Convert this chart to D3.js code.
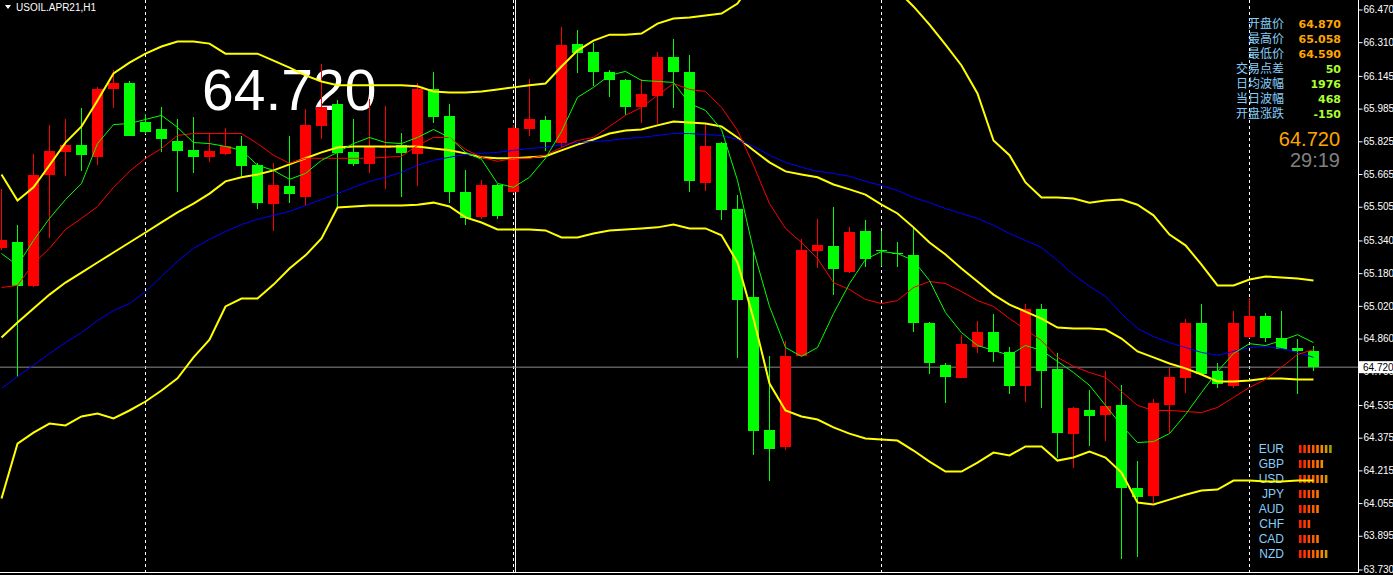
<!DOCTYPE html>
<html><head><meta charset="utf-8">
<script src="https://cdn.jsdelivr.net/npm/d3@7"></script>
<style>html,body{margin:0;padding:0;background:#000;overflow:hidden}</style>
</head><body><svg id="c" width="1393" height="575"></svg>
<script>
const symbol = "USOIL.APR21,H1";
const opens = [65.305,65.330,65.115,65.658,65.775,65.809,65.746,66.079,66.108,65.922,
65.883,65.829,65.785,65.746,65.765,65.800,65.707,65.516,65.604,65.555,
65.902,66.010,65.775,65.716,65.790,65.809,65.765,66.083,65.951,65.575,
65.457,65.609,65.575,65.883,65.927,65.819,66.299,66.260,66.162,66.127,
65.995,66.049,66.240,66.162,65.623,65.819,65.496,65.061,64.415,64.327,
64.777,65.286,65.315,65.188,65.384,65.291,65.281,65.271,64.934,64.733,
64.669,64.821,64.890,64.792,64.630,65.007,64.709,64.395,64.508,64.488,
64.537,64.131,64.092,64.537,64.669,64.934,64.699,64.630,64.870,64.968,
64.865,64.816,64.801];
const highs = [65.594,65.418,65.765,65.907,65.932,65.990,66.093,66.176,66.118,65.961,
65.995,65.932,65.942,65.868,65.888,65.849,65.721,65.721,65.849,65.981,
66.201,66.025,65.932,66.030,66.000,65.868,66.108,66.162,66.010,65.687,
65.638,65.614,65.907,66.132,65.951,66.382,66.372,66.304,66.172,66.132,
66.132,66.260,66.328,66.245,65.912,65.824,65.560,65.291,64.777,64.850,
65.349,65.447,65.506,65.408,65.438,65.384,65.330,65.403,64.939,64.738,
64.875,64.948,64.978,64.821,65.027,65.027,64.787,64.527,64.606,64.699,
64.635,64.263,64.562,64.718,64.958,65.027,64.738,64.997,65.058,64.983,
64.997,64.860,64.826];
const lows = [65.291,64.674,65.110,65.354,65.653,65.682,65.707,65.986,65.849,65.863,
65.775,65.575,65.668,65.726,65.756,65.653,65.496,65.384,65.521,65.511,
65.834,65.501,65.702,65.672,65.594,65.555,65.604,65.917,65.521,65.418,
65.447,65.445,65.570,65.853,65.780,65.795,66.157,66.098,66.044,65.956,
65.917,65.912,65.986,65.575,65.584,65.442,64.767,64.288,64.165,64.317,
64.772,65.203,65.071,65.183,65.208,65.217,65.208,64.890,64.689,64.547,
64.665,64.787,64.743,64.591,64.552,64.518,64.278,64.229,64.332,64.361,
63.779,63.789,64.053,64.400,64.596,64.684,64.616,64.616,64.865,64.841,
64.811,64.590,64.699];
const closes = [65.340,65.115,65.658,65.780,65.809,65.756,66.083,66.108,65.853,65.873,
65.834,65.780,65.746,65.780,65.800,65.702,65.521,65.609,65.565,65.907,
65.995,65.770,65.716,65.800,65.798,65.770,66.079,65.946,65.575,65.452,
65.609,65.462,65.888,65.932,65.824,66.294,66.255,66.162,66.127,65.995,
66.059,66.240,66.162,65.633,65.800,65.491,65.051,64.410,64.322,64.777,
65.291,65.320,65.198,65.379,65.247,65.286,65.276,64.934,64.738,64.674,
64.831,64.894,64.792,64.630,65.007,64.699,64.400,64.518,64.483,64.532,
64.131,64.087,64.547,64.674,64.934,64.689,64.640,64.934,64.968,64.865,
64.811,64.801,64.720];
const bbUpper = [65.663,65.535,65.600,65.708,65.819,65.898,66.025,66.157,66.210,66.254,
66.289,66.313,66.313,66.303,66.254,66.254,66.254,66.220,66.186,66.148,
66.118,66.099,66.099,66.099,66.099,66.099,66.094,66.069,66.064,66.064,
66.069,66.079,66.089,66.099,66.108,66.191,66.269,66.318,66.347,66.347,
66.352,66.401,66.426,66.431,66.441,66.450,66.499,66.612,66.710,66.783,
66.808,66.817,66.808,66.783,66.720,66.641,66.563,66.485,66.396,66.298,
66.196,66.059,65.829,65.757,65.624,65.550,65.550,65.545,65.525,65.535,
65.540,65.515,65.463,65.369,65.316,65.222,65.120,65.120,65.149,65.164,
65.159,65.154,65.144];
const bbMiddle = [64.865,64.938,65.007,65.075,65.134,65.183,65.232,65.281,65.330,65.379,
65.428,65.477,65.520,65.569,65.629,65.649,65.663,65.683,65.712,65.742,
65.771,65.795,65.800,65.800,65.800,65.800,65.800,65.790,65.781,65.766,
65.747,65.742,65.742,65.747,65.752,65.781,65.809,65.834,65.863,65.878,
65.883,65.903,65.922,65.917,65.912,65.898,65.844,65.781,65.722,65.678,
65.663,65.649,65.614,65.590,65.564,65.515,65.472,65.404,65.330,65.271,
65.203,65.139,65.075,65.026,64.992,64.958,64.914,64.909,64.909,64.904,
64.860,64.797,64.768,64.738,64.714,64.684,64.650,64.650,64.655,64.665,
64.665,64.660,64.660];
const bbLower = [64.077,64.346,64.400,64.444,64.435,64.479,64.493,64.469,64.508,64.552,
64.606,64.665,64.768,64.855,65.017,65.056,65.056,65.124,65.203,65.267,
65.350,65.501,65.506,65.511,65.511,65.511,65.515,65.525,65.506,65.453,
65.428,65.394,65.394,65.394,65.389,65.355,65.355,65.374,65.389,65.394,
65.399,65.404,65.418,65.399,65.399,65.365,65.232,64.958,64.640,64.508,
64.479,64.464,64.425,64.395,64.371,64.366,64.361,64.312,64.258,64.209,
64.209,64.253,64.302,64.288,64.332,64.332,64.263,64.278,64.307,64.278,
64.204,64.058,64.048,64.072,64.096,64.116,64.121,64.165,64.165,64.160,
64.160,64.165,64.165];
const maFast = [65.276,65.218,65.340,65.448,65.540,65.619,65.814,65.907,65.912,65.932,
65.952,65.893,65.819,65.814,65.800,65.781,65.708,65.683,65.639,65.668,
65.732,65.771,65.814,65.844,65.819,65.814,65.844,65.883,65.844,65.771,
65.737,65.619,65.600,65.649,65.742,65.873,66.040,66.089,66.148,66.167,
66.123,66.118,66.113,66.010,65.976,65.883,65.634,65.291,65.017,64.816,
64.773,64.816,64.982,65.129,65.247,65.286,65.276,65.242,65.144,64.987,
64.889,64.826,64.802,64.778,64.826,64.802,64.748,64.694,64.631,64.533,
64.435,64.351,64.356,64.395,64.488,64.596,64.699,64.787,64.835,64.826,
64.850,64.879,64.840];
const maMid = [65.110,65.120,65.227,65.301,65.394,65.448,65.506,65.600,65.678,65.742,
65.790,65.854,65.863,65.863,65.863,65.863,65.814,65.757,65.717,65.742,
65.742,65.742,65.742,65.742,65.747,65.752,65.805,65.844,65.844,65.785,
65.747,65.727,65.742,65.742,65.757,65.795,65.829,65.844,65.898,65.952,
65.991,66.050,66.108,66.079,66.069,65.991,65.878,65.708,65.520,65.399,
65.330,65.252,65.134,65.100,65.051,65.031,65.046,65.110,65.139,65.129,
65.090,65.046,65.017,64.958,64.904,64.850,64.768,64.724,64.694,64.670,
64.601,64.533,64.508,64.508,64.503,64.498,64.523,64.572,64.621,64.660,
64.719,64.782,64.806];
const maSlow = [64.616,64.675,64.729,64.787,64.840,64.889,64.948,64.997,65.031,65.090,
65.164,65.237,65.301,65.345,65.384,65.418,65.443,65.463,65.482,65.511,
65.540,65.569,65.600,65.629,65.649,65.673,65.708,65.732,65.747,65.761,
65.766,65.771,65.781,65.790,65.795,65.809,65.819,65.824,65.829,65.839,
65.844,65.854,65.863,65.863,65.858,65.854,65.834,65.800,65.757,65.722,
65.698,65.678,65.668,65.654,65.629,65.609,65.584,65.550,65.525,65.496,
65.472,65.448,65.414,65.374,65.340,65.306,65.242,65.173,65.115,65.066,
64.982,64.909,64.870,64.840,64.816,64.792,64.778,64.797,64.816,64.821,
64.811,64.792,64.768];
const yTicks = [66.470,66.310,66.145,65.985,65.825,65.665,65.505,65.340,65.180,65.020,64.860,64.700,64.535,64.375,64.215,64.055,63.895,63.730];
const daySeparators = [9, 32, 55, 78];
const lastPrice = 64.720;
const infoLabels = ["开盘价","最高价","最低价","交易点差","日均波幅","当日波幅","开盘涨跌"];
const infoValues = ["64.870","65.058","64.590","50","1976","468","-150"];
const timerText = "29:19";
const currencies = ["EUR","GBP","USD","JPY","AUD","CHF","CAD","NZD"];
const strength = [8,6,7,5,5,3,5,7];

const W = 1393, H = 575, axisX = 1358.5, bottomY = 572.5;
const svg = d3.select("#c");
svg.append("rect").attr("width",W).attr("height",H).attr("fill","#000");

const n = closes.length;
const x = d3.scaleLinear().domain([0, n-1]).range([1.5, 1.5 + 16*(n-1)]);
const y = d3.scaleLinear().domain([63.730, 66.470]).range([569.5, 9.5]);

svg.append("defs").append("clipPath").attr("id","plot")
  .append("rect").attr("x",0).attr("y",0).attr("width",axisX).attr("height",bottomY);

// day separators
svg.append("g").selectAll("line").data(daySeparators).join("line")
  .attr("x1",d=>x(d)).attr("x2",d=>x(d)).attr("y1",0).attr("y2",bottomY)
  .attr("stroke","#fff").attr("stroke-dasharray","3,3").attr("stroke-width",1);
svg.append("line").attr("x1",x(32)+2).attr("x2",x(32)+2).attr("y1",0).attr("y2",bottomY)
  .attr("stroke","#fff").attr("stroke-width",1);

// current price line
svg.append("line").attr("x1",0).attr("x2",axisX).attr("y1",y(lastPrice)).attr("y2",y(lastPrice))
  .attr("stroke","#8c8c8c").attr("stroke-width",1);

// big price text
svg.append("text").attr("x",202).attr("y",110).attr("fill","#fff")
  .style("font","57px 'Liberation Sans', Arial, sans-serif").text(lastPrice.toFixed(3));

// currency panel
const barColors = ["#ff2200","#ff3600","#ff4a00","#ff5e00","#ff7400","#f58a00","#d49800","#a2a000"];
const cp = svg.append("g");
currencies.forEach((c,r)=>{
  const by = 453 + r*15;
  cp.append("text").attr("x",1284).attr("y",by).attr("text-anchor","end").attr("fill","#87cefa")
    .style("font","12px 'Liberation Sans', Arial, sans-serif").text(c);
  d3.range(strength[r]).forEach(j=>{
    cp.append("rect").attr("x",1299 + j*4.3).attr("y",by-8).attr("width",2.6).attr("height",8)
      .attr("fill",barColors[j]);
  });
});

const plot = svg.append("g").attr("clip-path","url(#plot)");
// candles
const idx = d3.range(n);
const col = i => closes[i] >= opens[i] ? "#ff0000" : "#00ff00";
plot.append("g").selectAll("line").data(idx).join("line")
  .attr("x1",i=>x(i)).attr("x2",i=>x(i)).attr("y1",i=>y(highs[i])).attr("y2",i=>y(lows[i]))
  .attr("stroke",col).attr("stroke-width",1).attr("shape-rendering","crispEdges");
plot.append("g").selectAll("rect").data(idx).join("rect")
  .attr("x",i=>x(i)-5.5).attr("width",11)
  .attr("y",i=>y(Math.max(opens[i],closes[i])))
  .attr("height",i=>Math.max(1, Math.abs(y(opens[i])-y(closes[i]))))
  .attr("fill",col).attr("shape-rendering","crispEdges");

// indicator lines
const line = d3.line().x((d,i)=>x(i)).y(d=>y(d));
[[bbUpper,"#ffff00",2],[bbMiddle,"#ffff00",2],[bbLower,"#ffff00",2],
 [maSlow,"#0000ff",1],[maMid,"#ff0000",1],[maFast,"#00ff00",1]].forEach(([arr,c,w])=>{
  plot.append("path").datum(arr).attr("d",line).attr("fill","none").attr("stroke",c).attr("stroke-width",w);
});

// axis
svg.append("line").attr("x1",axisX).attr("x2",axisX).attr("y1",0).attr("y2",bottomY+0.5).attr("stroke","#fff");
svg.append("line").attr("x1",0).attr("x2",axisX).attr("y1",bottomY).attr("y2",bottomY).attr("stroke","#fff");
const axis = d3.axisRight(y).tickValues(yTicks).tickSize(4).tickSizeOuter(0).tickPadding(1).tickFormat(d3.format(".3f"));
const ga = svg.append("g").attr("transform",`translate(${axisX},0)`).call(axis);
ga.select(".domain").remove();
ga.selectAll(".tick line").attr("stroke","#fff");
ga.selectAll(".tick text").attr("fill","#fff").style("font","10px 'Liberation Sans', Arial, sans-serif");

// price box
svg.append("rect").attr("x",1359).attr("y",y(lastPrice)-6).attr("width",34).attr("height",12).attr("fill","#fff");
svg.append("text").attr("x",1363).attr("y",y(lastPrice)).attr("dy","0.34em").attr("fill","#000")
  .style("font","10px 'Liberation Sans', Arial, sans-serif").text(lastPrice.toFixed(3));

// title
svg.append("path").attr("d","M5,5L11,5L8,9Z").attr("fill","#fff");
svg.append("text").attr("x",16).attr("y",10.5).attr("fill","#fff")
  .style("font","10px 'Liberation Sans', Arial, sans-serif").text(symbol);

// info panel
infoLabels.forEach((t,i)=>{
  const by = 28 + i*15;
  svg.append("text").attr("x",1284).attr("y",by).attr("text-anchor","end").attr("fill","#87cefa")
    .style("font","12px 'Noto Sans CJK SC', sans-serif").text(t);
  svg.append("text").attr("x",1341).attr("y",by-0.3).attr("text-anchor","end")
    .attr("fill", i<3 ? "#ffa500" : "#adff2f")
    .style("font","bold 11px 'DejaVu Sans', sans-serif").text(infoValues[i]);
});
svg.append("text").attr("x",1340).attr("y",146).attr("text-anchor","end").attr("fill","#ffa500")
  .style("font","20px 'Liberation Sans', Arial, sans-serif").text(lastPrice.toFixed(3));
svg.append("text").attr("x",1340).attr("y",166.5).attr("text-anchor","end").attr("fill","#808080")
  .style("font","20px 'Liberation Sans', Arial, sans-serif").text(timerText);
</script></body></html>
